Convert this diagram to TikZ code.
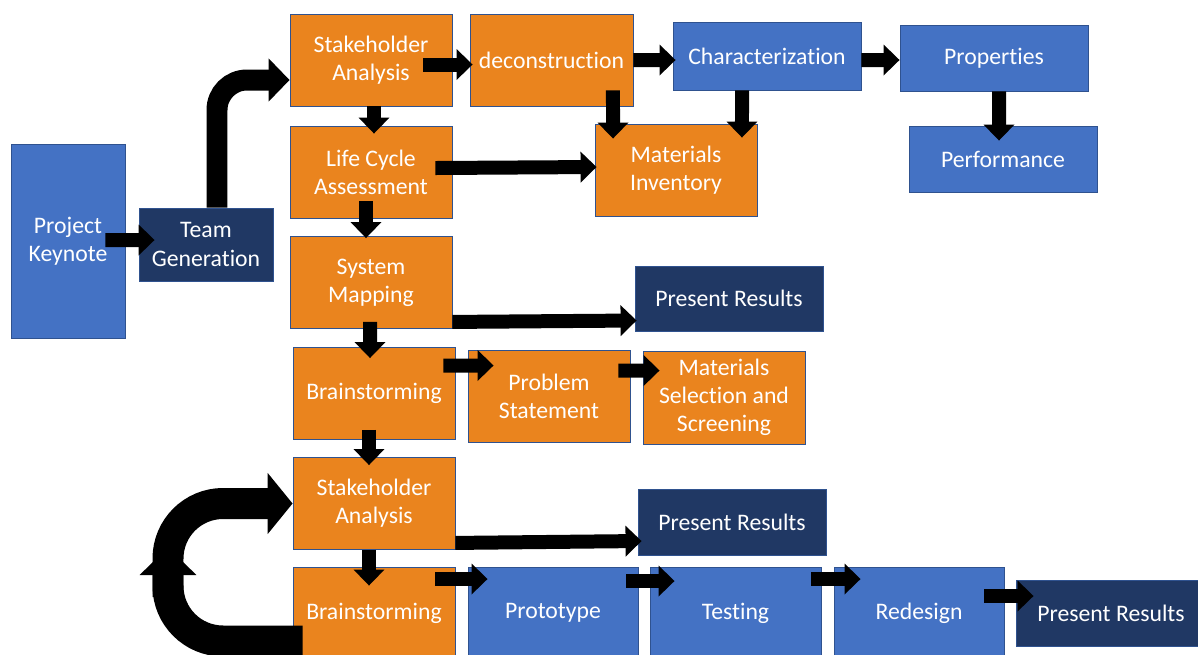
\documentclass[tikz,border=0pt]{standalone}
\usepackage{fontspec}
\setmainfont{Carlito}[Ligatures=NoCommon]
\usetikzlibrary{arrows.meta}
\definecolor{orangefill}{RGB}{234,132,30}
\definecolor{bluefill}{RGB}{68,114,196}
\definecolor{navyfill}{RGB}{32,56,100}
\definecolor{edgeblue}{RGB}{47,82,143}
\tikzset{
  basebox/.style={draw=edgeblue, line width=0.5pt, text=white, align=center, inner sep=0pt, font=\fontsize{13.5}{16}\selectfont},
  orangebox/.style={basebox, fill=orangefill, minimum width=3.24cm, minimum height=1.84cm},
  bluebox/.style={basebox, fill=bluefill},
  navybox/.style={basebox, fill=navyfill},
  flow/.style={line width=0.28cm, -{Triangle[width=0.6cm,length=0.32cm]}},
  bigflow/.style={line width=0.62cm, rounded corners=1.1cm, -{Triangle[width=1.2cm,length=0.5cm]}},
}
\begin{document}
\begin{tikzpicture}[x=0.02cm, y=-0.02cm]
  \useasboundingbox (0,0) rectangle (1198,654);
  \clip (0,0) rectangle (1198,654);
  \node[bluebox, minimum width=2.28cm, minimum height=3.88cm] (keynote) at (68,241) {Project\\Keynote};
  \node[navybox, minimum width=2.68cm, minimum height=1.46cm] (team) at (206,244.5) {Team\\Generation};
  \node[orangebox] (stake) at (371,60) {Stakeholder\\Analysis};
  \node[orangebox] (lca) at (371,172) {Life Cycle\\Assessment};
  \node[orangebox] (sysmap) at (371,282.5) {System\\Mapping};
  \node[orangebox] (brain) at (374,393.5) {Brainstorming};
  \node[orangebox] (stakeb) at (374,503.5) {Stakeholder\\Analysis};
  \node[orangebox] (brainb) at (374,613) {Brainstorming};
  \node[orangebox, minimum width=3.26cm] (decon) at (551.5,60) {deconstruction};
  \node[bluebox, minimum width=3.76cm, minimum height=1.36cm] (charact) at (767,56) {Characterization};
  \node[bluebox, minimum width=3.76cm, minimum height=1.32cm] (props) at (994,58) {Properties};
  \node[bluebox, minimum width=3.76cm, minimum height=1.32cm] (perform) at (1003,159) {Performance};
  \node[orangebox] (inventory) at (676,170) {Materials\\Inventory};
  \node[navybox, minimum width=3.76cm, minimum height=1.3cm] (results) at (729,298.5) {Present Results};
  \node[orangebox] (problem) at (549,396.5) {Problem\\Statement};
  \node[orangebox, minimum height=1.86cm] (selection) at (724,397.5) {Materials\\Selection and\\Screening};
  \node[navybox, minimum width=3.76cm, minimum height=1.32cm] (resultsb) at (732,522) {Present Results};
  \node[bluebox, minimum width=3.4cm, minimum height=1.84cm] (proto) at (553,613) {Prototype};
  \node[bluebox, minimum width=3.42cm, minimum height=1.84cm] (testing) at (735.5,613) {Testing};
  \node[bluebox, minimum width=3.4cm, minimum height=1.84cm] (redesign) at (919,613) {Redesign};
  \node[navybox, minimum width=3.8cm, minimum height=1.32cm] (resultsc) at (1111,613) {Present Results};

  \draw[flow] ([xshift=-0.4cm,yshift=0.02cm]keynote.east) -- ([xshift=0.32cm,yshift=0.09cm]team.west);
  \draw[flow, line width=0.42cm, rounded corners=0.6cm, -{Triangle[width=0.84cm,length=0.42cm]}] ([xshift=0.22cm]team.north) |- ([yshift=-0.4cm]stake.west);
  \draw[flow] ([xshift=-0.58cm,yshift=-0.09cm]stake.east) -- ([xshift=0.06cm,yshift=-0.09cm]decon.west);
  \draw[flow] ([xshift=0.06cm]stake.south) -- ([xshift=0.06cm,yshift=-0.16cm]lca.north);
  \draw[flow] ([yshift=-0.0cm]decon.east) -- ([xshift=0.06cm,yshift=-0.08cm]charact.west);
  \draw[flow] ([yshift=-0.08cm]charact.east) -- ([yshift=-0.04cm]props.west);
  \draw[flow] ([xshift=0.1cm]props.south) -- ([xshift=-0.08cm,yshift=-0.3cm]perform.north);
  \draw[flow] ([xshift=1.23cm,yshift=0.32cm]decon.south) -- ([xshift=-1.26cm,yshift=-0.3cm]inventory.north);
  \draw[flow] ([xshift=-0.5cm]charact.south) -- ([xshift=1.32cm,yshift=-0.28cm]inventory.north);
  \draw[flow] ([xshift=-0.34cm,yshift=0.08cm]lca.east) -- ([xshift=0.04cm,yshift=0.06cm]inventory.west);
  \draw[flow] ([xshift=-0.1cm,yshift=0.34cm]lca.south) -- ([xshift=-0.1cm,yshift=-0.04cm]sysmap.north);
  \draw[flow] ([yshift=0.14cm]sysmap.south east) -- ([xshift=0.04cm,yshift=-0.44cm]results.west);
  \draw[flow] ([xshift=-0.02cm,yshift=0.14cm]sysmap.south) -- ([xshift=-0.08cm,yshift=-0.22cm]brain.north);
  \draw[flow] ([xshift=-0.24cm,yshift=0.56cm]brain.east) -- ([xshift=0.52cm,yshift=0.62cm]problem.west);
  \draw[flow] ([xshift=-0.24cm,yshift=0.52cm]problem.east) -- ([xshift=0.34cm,yshift=0.54cm]selection.west);
  \draw[flow] ([xshift=-0.1cm,yshift=0.2cm]brain.south) -- ([xshift=-0.1cm,yshift=-0.16cm]stakeb.north);
  \draw[flow] ([yshift=0.14cm]stakeb.south east) -- ([xshift=0.08cm,yshift=-0.38cm]resultsb.west);
  \draw[flow] ([xshift=-0.1cm]stakeb.south) -- ([xshift=-0.1cm,yshift=-0.38cm]brainb.north);
  \draw[flow] ([xshift=-0.4cm,yshift=0.68cm]brainb.east) -- ([xshift=0.4cm,yshift=0.68cm]proto.west);
  \draw[flow] ([xshift=-0.24cm,yshift=0.64cm]proto.east) -- ([xshift=0.5cm,yshift=0.64cm]testing.west);
  \draw[flow] ([xshift=-0.2cm,yshift=0.68cm]testing.east) -- ([xshift=0.54cm,yshift=0.68cm]redesign.west);
  \draw[flow] ([xshift=-0.4cm,yshift=0.34cm]redesign.east) -- ([xshift=0.36cm,yshift=0.34cm]resultsc.west);

  \coordinate (loopup) at (168,547);
  \draw[bigflow] ([yshift=-1.0cm]loopup) |- (stakeb.west);
  \draw[bigflow, -{Triangle[width=1.1cm,length=0.56cm]}] ([xshift=0.2cm,yshift=-0.56cm]brainb.west) -| (loopup);
\end{tikzpicture}
\end{document}
